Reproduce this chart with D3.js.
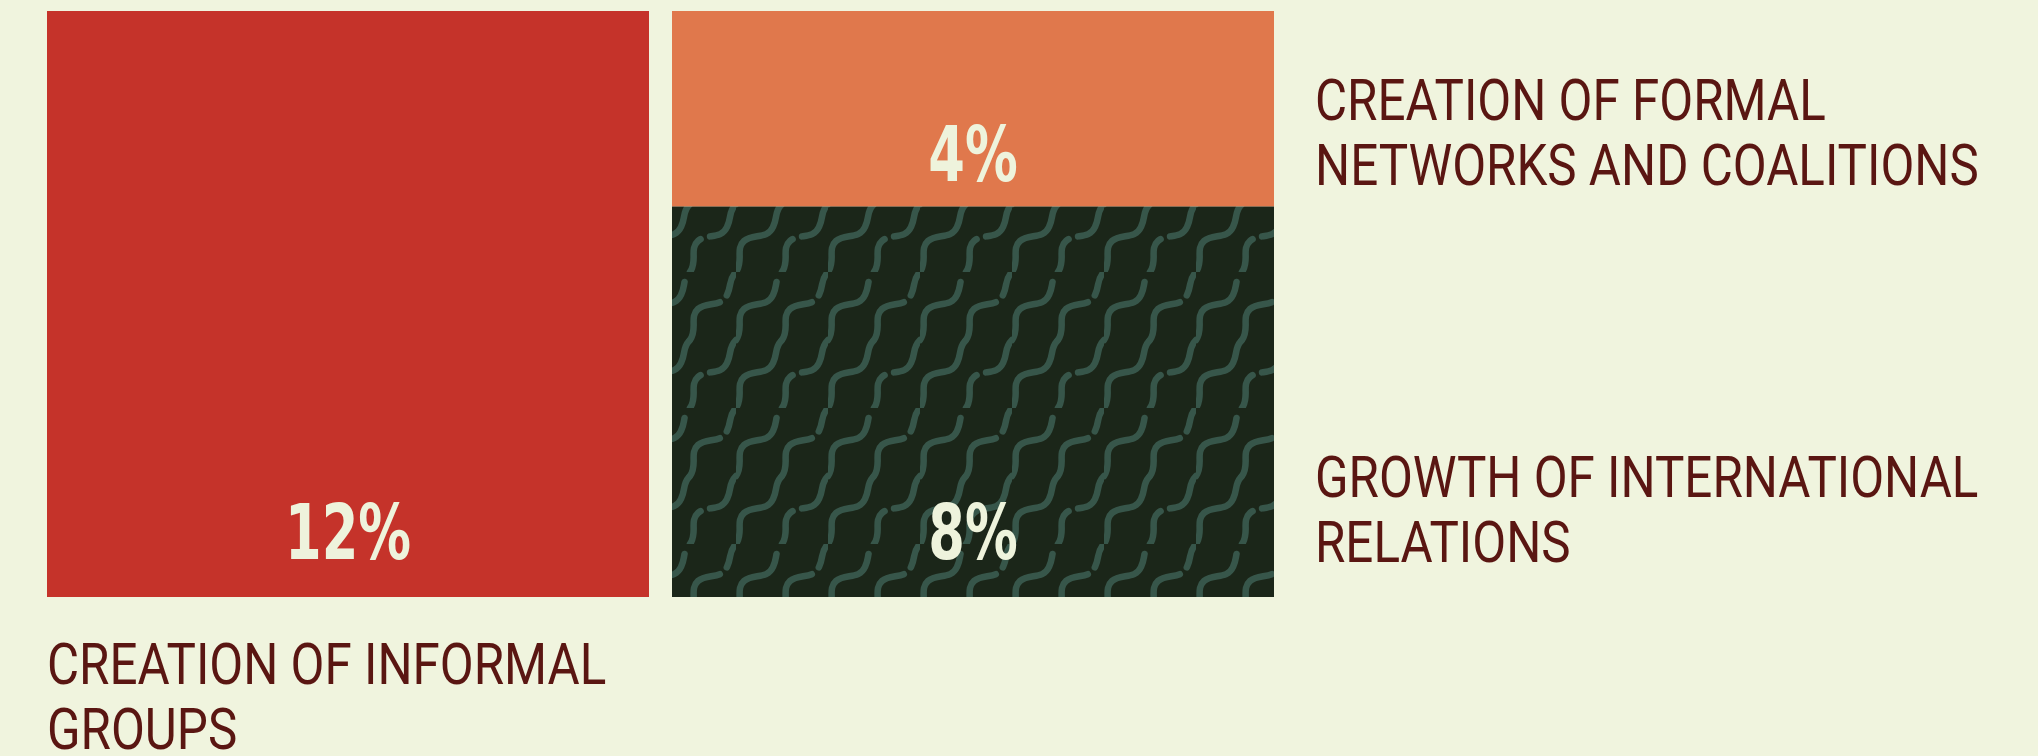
<!DOCTYPE html>
<html>
<head>
<meta charset="utf-8">
<script src="https://cdn.jsdelivr.net/npm/d3@7"></script>
<style>
  html, body { margin: 0; padding: 0; background: #f0f4de; }
  svg { display: block; }
  .cat { font-family: Roboto, 'DejaVu Sans Condensed', sans-serif; font-weight: 400; fill: #5a1612; }
  .pct { font-family: 'DejaVu Sans Condensed', 'Roboto', sans-serif; font-weight: bold; fill: #eef3dc; }
</style>
</head>
<body>
<svg width="2038" height="756"></svg>
<script>
// values in percent, each one sits in a column, stacked from the bottom
const columns = ['A', 'B']
const categories = ['informal', 'international', 'formal']
const values = [12, 8, 4]
const columnOf = ['A', 'B', 'B']
const labels = [
  ['CREATION OF INFORMAL', 'GROUPS'],
  ['GROWTH OF INTERNATIONAL', 'RELATIONS'],
  ['CREATION OF FORMAL', 'NETWORKS AND COALITIONS']
]
const colors = ['#c5332a', 'url(#squiggle)', '#e0784c']

let svg = d3.select('svg')

let x = d3.scaleBand()
  .domain(columns)
  .range([47, 1274])
  .paddingInner(0.0368)
  .paddingOuter(0)

let y = d3.scaleLinear()
  .domain([0, d3.max(columns, c => d3.sum(values.filter((v, i) => columnOf[i] === c)))])
  .range([597, 11])

// squiggly fill for the dark segment: 2x2 cells, each one wave step
let sw = 46
let sh = 68
function wave (x0, y0) {
  return 'M' + x0 + ',' + (y0 + sh) +
    ' C' + (x0 + 8) + ',' + (y0 + 57) + ' ' + (x0 - 1) + ',' + (y0 + 45) + ' ' + (x0 + 8) + ',' + (y0 + 37) +
    ' C' + (x0 + 17) + ',' + (y0 + 29) + ' ' + (x0 + 31) + ',' + (y0 + 36) + ' ' + (x0 + 37) + ',' + (y0 + 23) +
    ' C' + (x0 + 42) + ',' + (y0 + 13) + ' ' + (x0 + 38) + ',' + (y0 + 8) + ' ' + (x0 + sw) + ',' + y0
}
let cells = [[0, 0, '80 14'], [sw, 0, '56 10 40 10'], [0, sh, '90 10'], [sw, sh, '36 10 70 8']]

let defs = svg.append('defs')
let pat = defs.append('pattern')
  .attr('id', 'squiggle')
  .attr('patternUnits', 'userSpaceOnUse')
  .attr('width', sw * 2)
  .attr('height', sh * 2)
pat.append('rect')
  .attr('width', sw * 2)
  .attr('height', sh * 2)
  .attr('fill', '#1b2619')
pat.selectAll('path')
  .data(cells)
  .enter()
  .append('path')
  .attr('d', d => wave(d[0], d[1]))
  .attr('fill', 'none')
  .attr('stroke', '#37564a')
  .attr('stroke-width', 6.5)
  .attr('stroke-linecap', 'round')
  .attr('stroke-dasharray', d => d[2])

// stack segments per column
let offset = {}
let segs = values.map(function (v, i) {
  let c = columnOf[i]
  let y0 = offset[c] || 0
  offset[c] = y0 + v
  return { cat: categories[i], value: v, col: c, y0: y0, y1: y0 + v, label: labels[i], color: colors[i] }
})

let g = svg.append('g')

g.selectAll('.bar')
  .data(segs)
  .enter()
  .append('rect')
  .attr('class', 'bar')
  .attr('x', d => x(d.col))
  .attr('y', d => y(d.y1))
  .attr('width', x.bandwidth())
  .attr('height', d => y(d.y0) - y(d.y1))
  .attr('fill', d => d.color)

// narrow the fallback font to match the condensed original
g.selectAll('.pct')
  .data(segs)
  .enter()
  .append('text')
  .attr('class', 'pct')
  .attr('transform', function (d) {
    let tx = x(d.col) + x.bandwidth() / 2
    let ty = y(d.y0) - Math.min(38, (y(d.y0) - y(d.y1)) * 0.13)
    return 'translate(' + tx + ',' + ty + ') scale(0.77,1)'
  })
  .attr('text-anchor', 'middle')
  .attr('font-size', 76)
  .text(d => d.value + '%')

// category labels: right of column B, or under column A
let lineH = 65
let cat = g.selectAll('.cat')
  .data(segs)
  .enter()
  .append('text')
  .attr('class', 'cat')
  .attr('font-size', 58)
  .attr('transform', function (d) {
    let s = ' scale(0.85,1)'
    if (d.col === 'A') return 'translate(' + x(d.col) + ',' + (y(0) + 87) + ')' + s
    let tx = x(d.col) + x.bandwidth() + 41
    if (d.y1 >= y.domain()[1]) return 'translate(' + tx + ',' + (y(d.y1) + 109) + ')' + s
    return 'translate(' + tx + ',' + (y(d.y0) - 100) + ')' + s
  })

cat.selectAll('tspan')
  .data(d => d.label)
  .enter()
  .append('tspan')
  .attr('x', 0)
  .attr('dy', (d, i) => i === 0 ? 0 : lineH)
  .text(d => d)
</script>
</body>
</html>
